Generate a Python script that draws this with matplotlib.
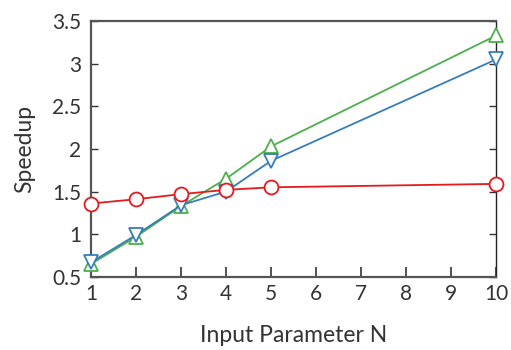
import matplotlib
matplotlib.use("Agg")
import matplotlib.pyplot as plt

x = [1, 2, 3, 4, 5, 10]
green = [0.65, 0.97, 1.33, 1.65, 2.03, 3.33]
blue = [0.67, 0.99, 1.34, 1.50, 1.86, 3.05]
red = [1.36, 1.41, 1.47, 1.52, 1.55, 1.59]

xticks = [1, 2, 3, 4, 5, 6, 7, 8, 9, 10]
yticks = [0.5, 1, 1.5, 2, 2.5, 3, 3.5]
ytick_labels = ["0.5", "1", "1.5", "2", "2.5", "3", "3.5"]

plt.rcParams['font.family'] = ['Lato', 'DejaVu Sans']

fig = plt.figure(figsize=(5.11, 3.5), dpi=100)
ax = fig.add_axes([0.178, 0.209, 0.793, 0.731])

ax.plot(x, green, color='#4daf4a', lw=1.3, marker='^', ms=10, mfc='white', mew=1.3, clip_on=False, zorder=3)
ax.plot(x, blue, color='#377eb8', lw=1.3, marker='v', ms=10, mfc='white', mew=1.3, clip_on=False, zorder=4)
ax.plot(x, red, color='#e41a1c', lw=1.3, marker='o', ms=10, mfc='white', mew=1.3, clip_on=False, zorder=5)

ax.set_xlim(1, 10)
ax.set_ylim(0.5, 3.5)
ax.set_xticks(xticks)
ax.set_yticks(yticks)
ax.set_yticklabels(ytick_labels)
ax.tick_params(axis='both', direction='in', labelsize=15, colors='#333333')
ax.tick_params(axis='x', length=7, width=1.2, pad=5)
ax.tick_params(axis='y', length=5, width=1.0, right=True, pad=7)

for s in ['left', 'bottom', 'top']:
    ax.spines[s].set_color('#555555')
    ax.spines[s].set_linewidth(1.6)
ax.spines['right'].set_color('#222222')
ax.spines['right'].set_linewidth(1.0)

ax.set_xlabel('Input Parameter N', fontsize=16.5, color='#333333', labelpad=15)
ax.set_ylabel('Speedup', fontsize=16.5, color='#333333', labelpad=12)

fig.savefig('out.png', dpi=100)
